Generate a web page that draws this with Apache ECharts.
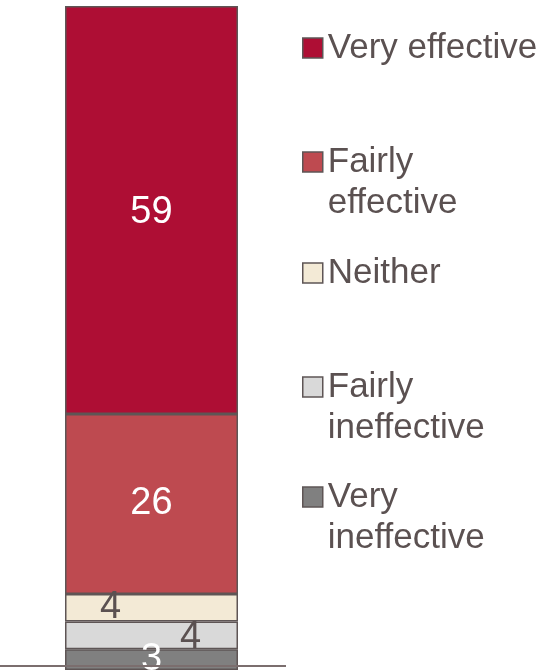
<!DOCTYPE html>
<html>
<head>
<meta charset="utf-8">
<script src="https://cdn.jsdelivr.net/npm/echarts@6/dist/echarts.min.js"></script>
<style>
html,body{margin:0;padding:0;background:#fff;}
#chart{width:539px;height:670px;}
</style>
</head>
<body>
<div id="chart"></div>
<script>
// Data (bottom of stack first)
var categories = ['All'];
var seriesNames = ['Very ineffective', 'Fairly ineffective', 'Neither', 'Fairly effective', 'Very effective'];
var veryIneffective = [3];
var fairlyIneffective = [4];
var neither = [4];
var fairlyEffective = [26];
var veryEffective = [59];
var legendLabels = ['Very effective', 'Fairly\neffective', 'Neither', 'Fairly\nineffective', 'Very\nineffective'];

var colors = {
  'Very effective': '#AE0E34',
  'Fairly effective': '#BE4A50',
  'Neither': '#F3EAD6',
  'Fairly ineffective': '#D9D9D9',
  'Very ineffective': '#808080'
};
var textColor = '#5b5151';
var borderColor = '#5e5555';
var font = '"Liberation Sans", Arial, sans-serif';

var values = [veryIneffective, fairlyIneffective, neither, fairlyEffective, veryEffective];
var labelCfg = [
  {color: '#ffffff', offset: [0, 0]},
  {color: textColor, offset: [39, 2]},
  {color: textColor, offset: [-41, 0]},
  {color: '#ffffff', offset: [0, 0]},
  {color: '#ffffff', offset: [0, 2]}
];

var series = seriesNames.map(function (n, i) {
  return {
    name: n,
    type: 'bar',
    stack: 'total',
    barWidth: '100%',
    data: values[i],
    itemStyle: {color: colors[n], borderColor: borderColor, borderWidth: 1.5},
    label: {
      show: true,
      position: 'inside',
      color: labelCfg[i].color,
      offset: labelCfg[i].offset,
      fontSize: 38,
      fontFamily: font,
      fontWeight: 'normal'
    },
    emphasis: {disabled: true}
  };
});

// legend: one component per item so all swatches are evenly spaced
var swatchCenters = [48, 162, 273, 387, 497];
var legendOrder = ['Very effective', 'Fairly effective', 'Neither', 'Fairly ineffective', 'Very ineffective'];
var legends = legendOrder.map(function (n, i) {
  var label = legendLabels[i];
  var twoLine = label.split('\n').length > 1;
  // a leading empty line keeps the first text line level with the swatch
  var shown = twoLine ? '\n' + label : label;
  return {
    data: [n],
    orient: 'vertical',
    left: 302,
    top: twoLine ? swatchCenters[i] - 61.5 : swatchCenters[i] - 20.5,
    padding: 0,
    itemWidth: 20,
    itemHeight: 20,
    icon: 'rect',
    selectedMode: false,
    formatter: function () { return shown; },
    itemStyle: {borderColor: borderColor, borderWidth: 1.5},
    textStyle: {
      fontSize: 35,
      lineHeight: 41,
      color: textColor,
      fontFamily: font
    }
  };
});

var chart = echarts.init(document.getElementById('chart'));
chart.setOption({
  animation: false,
  backgroundColor: '#ffffff',
  grid: {left: 65, right: 301, top: 6, bottom: 0},
  xAxis: {type: 'category', data: categories, show: false},
  yAxis: {type: 'value', min: 0, max: 96, show: false},
  legend: legends,
  series: series,
  graphic: [{
    type: 'line',
    z: 100,
    shape: {x1: 0, y1: 666, x2: 286, y2: 666},
    style: {stroke: '#7b6e6e', lineWidth: 2}
  }]
});
</script>
</body>
</html>
